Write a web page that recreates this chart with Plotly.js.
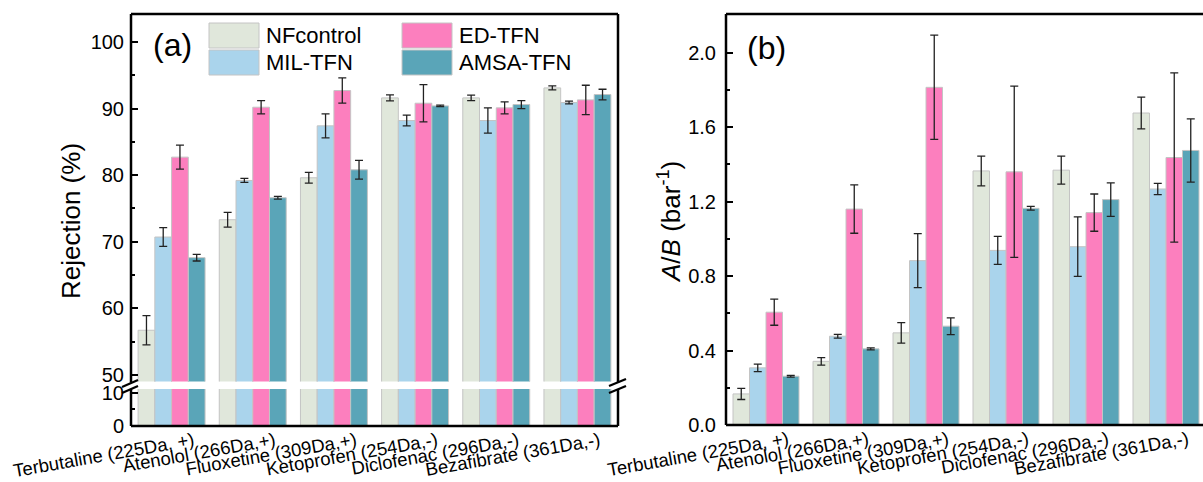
<!DOCTYPE html>
<html>
<head>
<meta charset="utf-8">
<script src="https://cdn.plot.ly/plotly-3.0.1.min.js"></script>
<style>
html,body{margin:0;padding:0;overflow:hidden;background:#fff;}
#chart{width:1220px;height:482px;}
</style>
</head>
<body>
<div id="chart"></div>
<script>
// ---------- data ----------
var categories = ['Terbutaline (225Da, +)', 'Atenolol (266Da,+)', 'Fluoxetine (309Da,+)',
                  'Ketoprofen (254Da,-)', 'Diclofenac (296Da,-)', 'Bezafibrate (361Da,-)'];
var seriesNames = ['NFcontrol', 'MIL-TFN', 'ED-TFN', 'AMSA-TFN'];

// Rejection (%)
var rejNF      = [56.7, 73.3, 79.6, 91.6, 91.6, 93.1];
var rejNFErr   = [2.2, 1.1, 0.8, 0.45, 0.4, 0.3];
var rejMIL     = [70.7, 79.2, 87.4, 88.2, 88.2, 90.9];
var rejMILErr  = [1.4, 0.3, 1.8, 0.8, 1.9, 0.2];
var rejED      = [82.7, 90.2, 92.7, 90.8, 90.1, 91.3];
var rejEDErr   = [1.8, 1.0, 1.9, 2.8, 0.9, 2.2];
var rejAMSA    = [67.6, 76.6, 80.8, 90.4, 90.6, 92.1];
var rejAMSAErr = [0.5, 0.2, 1.4, 0.1, 0.6, 0.8];

// A/B (bar^-1)
var abNF      = [0.167, 0.342, 0.495, 1.365, 1.369, 1.676];
var abNFErr   = [0.03, 0.02, 0.055, 0.08, 0.075, 0.085];
var abMIL     = [0.307, 0.477, 0.883, 0.938, 0.958, 1.268];
var abMILErr  = [0.02, 0.01, 0.145, 0.075, 0.16, 0.03];
var abED      = [0.606, 1.16, 1.814, 1.36, 1.141, 1.437];
var abEDErr   = [0.07, 0.13, 0.28, 0.46, 0.10, 0.455];
var abAMSA    = [0.262, 0.409, 0.531, 1.164, 1.211, 1.475];
var abAMSAErr = [0.005, 0.005, 0.045, 0.01, 0.09, 0.17];

// ---------- styling ----------
var W = 1220, H = 482;
var colors = ['#E0E7DB', '#AAD4EC', '#FC7FBE', '#5AA5B8'];
var FONT = 'Liberation Sans, Arial, sans-serif';
function px(x){ return x / W; }
function py(y){ return (H - y) / H; }

var rejVals = [rejNF, rejMIL, rejED, rejAMSA];
var rejErrs = [rejNFErr, rejMILErr, rejEDErr, rejAMSAErr];
var abVals  = [abNF, abMIL, abED, abAMSA];
var abErrs  = [abNFErr, abMILErr, abEDErr, abAMSAErr];

var traces = [];
function barTrace(name, vals, errs, i, xa, ya){
  var t = {
    type: 'bar', name: name, x: categories, y: vals,
    xaxis: xa, yaxis: ya, showlegend: false,
    marker: {color: colors[i], line: {color: '#c4c4c4', width: 1}},
    hoverinfo: 'x+y+name'
  };
  if (errs) {
    t.error_y = {type: 'data', array: errs, visible: true, color: '#222', thickness: 1.3, width: 4};
  }
  return t;
}
for (var i = 0; i < 4; i++) {
  traces.push(barTrace(seriesNames[i], rejVals[i], null, i, 'x', 'y'));        // lower broken segment
  traces.push(barTrace(seriesNames[i], rejVals[i], rejErrs[i], i, 'x', 'y2')); // upper segment
  traces.push(barTrace(seriesNames[i], abVals[i], abErrs[i], i, 'x2', 'y3'));  // panel (b)
}

var tickFont = {family: FONT, size: 20, color: '#000'};
var catFont  = {family: FONT, size: 18.5, color: '#000'};

var aL = 131, aR = 618, aT = 14, aB = 426, gapTop = 381.5, gapBot = 389;
var bL = 726, bR = 1206, bT = 14, bB = 425;

var xCommon = {
  type: 'category', range: [-0.5, 5.5], showgrid: false, zeroline: false,
  showline: false, ticks: '', tickangle: -10, tickfont: catFont,
  ticklabelshift: 22, ticklabelstandoff: 0, fixedrange: true
};
var yCommon = {
  showgrid: false, zeroline: false, showline: false,
  ticks: 'inside', ticklen: 7, tickwidth: 2, tickcolor: '#000',
  tickfont: tickFont, ticklabelstandoff: 6, fixedrange: true
};

var layout = {
  width: W, height: H,
  margin: {l: 0, r: 0, t: 0, b: 0},
  paper_bgcolor: '#fff', plot_bgcolor: 'rgba(0,0,0,0)',
  font: {family: FONT, color: '#000'},
  barmode: 'group', bargap: 0.175, bargroupgap: 0,
  showlegend: false,
  xaxis: Object.assign({}, xCommon, {domain: [px(aL), px(aR)], anchor: 'y'}),
  xaxis2: Object.assign({}, xCommon, {domain: [px(bL), px(bR)], anchor: 'y3'}),
  yaxis: Object.assign({}, yCommon, {
    domain: [py(aB), py(gapBot)], anchor: 'x', range: [0, 11.2],
    tickmode: 'array', tickvals: [0, 10],
    minor: {tickvals: [5], ticks: 'inside', ticklen: 4, tickwidth: 2, tickcolor: '#000'}
  }),
  yaxis2: Object.assign({}, yCommon, {
    domain: [py(gapTop), py(aT)], anchor: 'x', range: [49, 104.2],
    tickmode: 'array', tickvals: [50, 60, 70, 80, 90, 100],
    minor: {tickvals: [55, 65, 75, 85, 95], ticks: 'inside', ticklen: 4, tickwidth: 2, tickcolor: '#000'}
  }),
  yaxis3: Object.assign({}, yCommon, {
    domain: [py(bB), py(bT)], anchor: 'x2', range: [0, 2.208],
    tickmode: 'array', tickvals: [0, 0.4, 0.8, 1.2, 1.6, 2.0], tickformat: '.1f',
    ticklabelstandoff: 9,
    minor: {tickvals: [0.2, 0.6, 1.0, 1.4, 1.8], ticks: 'inside', ticklen: 4, tickwidth: 2, tickcolor: '#000'}
  }),
  shapes: [],
  annotations: []
};

function line(x0, y0, x1, y1, w){
  layout.shapes.push({type: 'line', xref: 'paper', yref: 'paper',
    x0: px(x0), y0: py(y0), x1: px(x1), y1: py(y1),
    line: {color: '#000', width: w || 2.5}, layer: 'above'});
}
// panel (a) frame with break
line(aL, aT, aR, aT);
line(aL, aB, aR, aB);
line(aL, aT, aL, gapTop + 1);
line(aL, gapBot, aL, aB);
line(aR, aT, aR, gapTop + 1);
line(aR, gapBot, aR, aB);
// break marks
line(aL - 9, 387, aL + 7, 380, 2.2);
line(aL - 9, 393, aL + 7, 386, 2.2);
line(aR - 9, 386, aR + 8, 379, 2.2);
line(aR - 9, 393, aR + 8, 386, 2.2);
// panel (b) frame
line(bL, bT, bR, bT);
line(bL, bB, bR, bB);
line(bL, bT, bL, bB);
line(bR, bT, bR, bB);

// legend (manual, 2 x 2)
var legPos = [[209, 23], [209, 50], [402, 23], [402, 50]];
for (var k = 0; k < 4; k++) {
  var lx = legPos[k][0], ly = legPos[k][1];
  layout.shapes.push({type: 'rect', xref: 'paper', yref: 'paper',
    x0: px(lx), x1: px(lx + 50), y0: py(ly + 25), y1: py(ly),
    fillcolor: colors[k], line: {color: '#c4c4c4', width: 1}, layer: 'above'});
  layout.annotations.push({xref: 'paper', yref: 'paper', x: px(lx + 55), y: py(ly + 12.5),
    xanchor: 'left', yanchor: 'middle', showarrow: false, text: seriesNames[k],
    font: {family: FONT, size: 22, color: '#000'}});
}

// panel labels
layout.annotations.push({xref: 'paper', yref: 'paper', x: px(151), y: py(45), xanchor: 'left', yanchor: 'middle',
  showarrow: false, text: '(a)', font: {family: FONT, size: 32, color: '#000'}});
layout.annotations.push({xref: 'paper', yref: 'paper', x: px(745), y: py(48), xanchor: 'left', yanchor: 'middle',
  showarrow: false, text: '(b)', font: {family: FONT, size: 32, color: '#000'}});

// axis titles
layout.annotations.push({xref: 'paper', yref: 'paper', x: px(71), y: py(221), xanchor: 'center', yanchor: 'middle',
  showarrow: false, textangle: -90, text: 'Rejection (%)', font: {family: FONT, size: 26, color: '#000'}});
layout.annotations.push({xref: 'paper', yref: 'paper', x: px(669), y: py(222), xanchor: 'center', yanchor: 'middle',
  showarrow: false, textangle: -90, text: '<i>A</i>/<i>B</i> (bar<sup>-1</sup>)', font: {family: FONT, size: 26, color: '#000'}});

Plotly.newPlot('chart', traces, layout, {displayModeBar: false, staticPlot: true});
</script>
</body>
</html>
